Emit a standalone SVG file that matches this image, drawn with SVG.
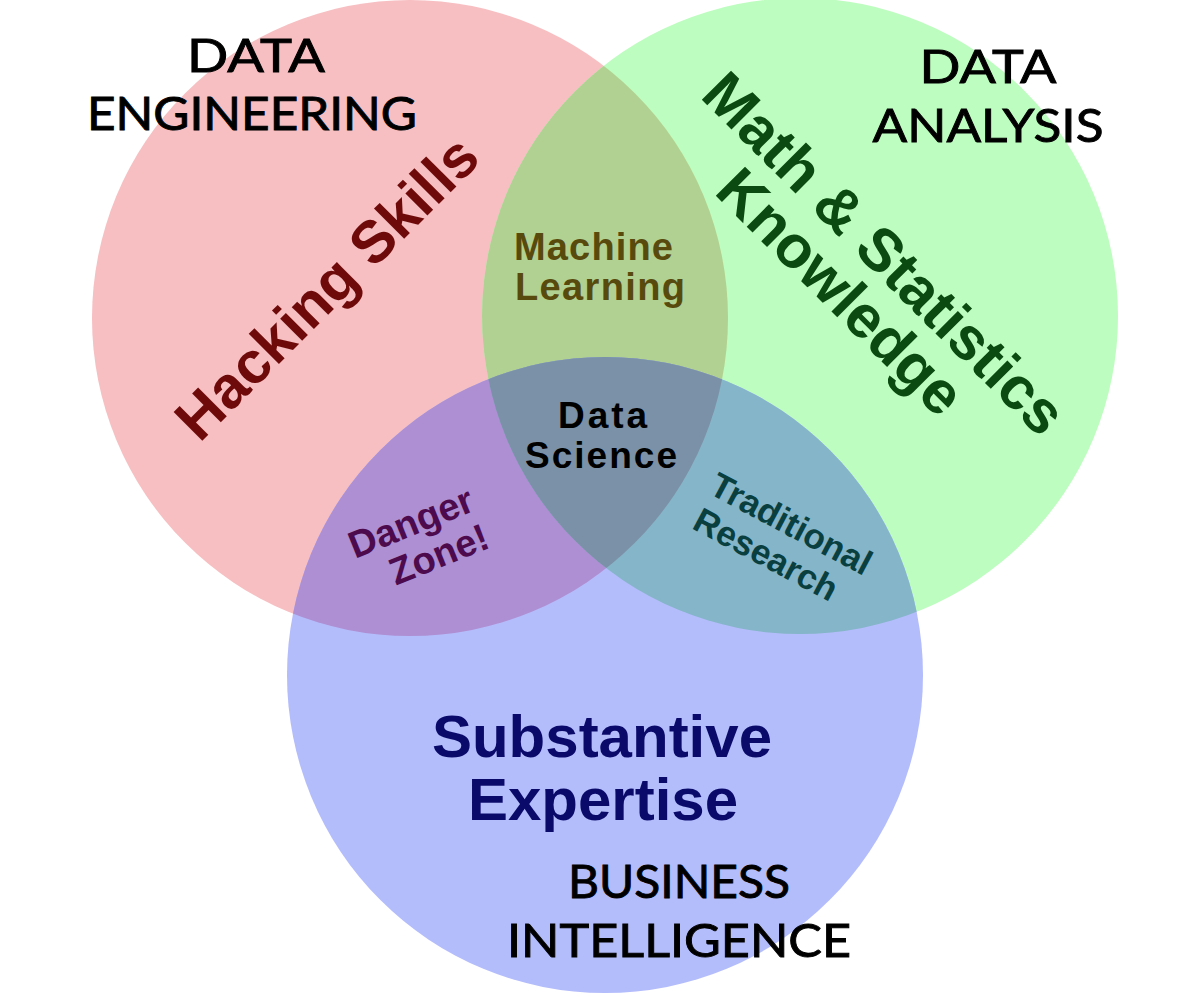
<svg xmlns="http://www.w3.org/2000/svg" width="1198" height="1006" viewBox="0 0 1198 1006">
  <defs>
    <!-- the three skill circles -->
    <circle id="c-hack" cx="410" cy="318" r="318"/>
    <circle id="c-math" cx="800" cy="316" r="318"/>
    <circle id="c-subst" cx="605" cy="675" r="318"/>
    <clipPath id="clip-hack"><use href="#c-hack"/></clipPath>
    <clipPath id="clip-math"><use href="#c-math"/></clipPath>
    <style>
      .area { font-family: "Liberation Sans", Arial, sans-serif; font-weight: bold; text-anchor: middle; }
      .field { font-family: Lato, "Open Sans", sans-serif; font-size: 46px; fill: #000; stroke: #000; stroke-width: 0.9px; text-anchor: middle; }
      .mix { font-family: "Liberation Sans", Arial, sans-serif; font-weight: bold; }
    </style>
  </defs>

  <rect width="1198" height="1006" fill="#ffffff"/>

  <!-- circles and their overlaps -->
  <g id="hacking-skills"><use href="#c-hack" fill="#f7bfc2"/></g>
  <g id="math-statistics"><use href="#c-math" fill="#bdfdbf"/></g>
  <g id="substantive-expertise"><use href="#c-subst" fill="#b4bdfb"/></g>
  <g id="machine-learning"><use href="#c-math" clip-path="url(#clip-hack)" fill="#b1d192"/></g>
  <g id="danger-zone"><use href="#c-subst" clip-path="url(#clip-hack)" fill="#ae8fd3"/></g>
  <g id="traditional-research"><use href="#c-subst" clip-path="url(#clip-math)" fill="#85b5c9"/></g>
  <g id="data-science">
    <g clip-path="url(#clip-hack)"><use href="#c-subst" clip-path="url(#clip-math)" fill="#7b91a7"/></g>
  </g>

  <g id="connectors"/>

  <!-- main circle labels -->
  <g id="label-hacking" transform="translate(341,302) rotate(-45)">
    <text class="area" x="0" y="0" font-size="59" fill="#6e0a0a">Hacking Skills</text>
  </g>
  <g id="label-math" transform="translate(870,268) rotate(45)">
    <text class="area" x="0" y="0" font-size="60" fill="#0b4a10">Math &amp; Statistics</text>
    <text class="area" x="-4" y="58" font-size="60" fill="#0b4a10">Knowledge</text>
  </g>
  <g id="label-subst">
    <text class="area" x="602" y="757" font-size="60" fill="#0a0a6b">Substantive</text>
    <text class="area" x="603" y="820" font-size="60" fill="#0a0a6b">Expertise</text>
  </g>

  <!-- overlap labels -->
  <g id="label-ml">
    <text class="mix" x="514" y="260" font-size="38" fill="#574a0c" textLength="159" lengthAdjust="spacing">Machine</text>
    <text class="mix" x="515" y="300" font-size="38" fill="#574a0c" textLength="170" lengthAdjust="spacing">Learning</text>
  </g>
  <g id="label-ds">
    <text class="mix" x="558" y="428" font-size="37" fill="#000" textLength="89" lengthAdjust="spacing">Data</text>
    <text class="mix" x="525" y="468" font-size="37" fill="#000" textLength="152" lengthAdjust="spacing">Science</text>
  </g>
  <g id="label-danger" transform="translate(418,540) rotate(-22)">
    <text class="area" x="0" y="-6" font-size="38" fill="#4d0a4d">Danger</text>
    <text class="area" x="14" y="34" font-size="38" fill="#4d0a4d">Zone!</text>
  </g>
  <g id="label-trad" transform="translate(780,545) rotate(28)">
    <text class="area" x="0" y="-12" font-size="35" fill="#0a3f3f">Traditional</text>
    <text class="area" x="-8" y="27" font-size="35" fill="#0a3f3f">Research</text>
  </g>

  <!-- field labels -->
  <g id="label-data-eng">
    <text class="field" x="256" y="72" textLength="138" lengthAdjust="spacingAndGlyphs">DATA</text>
    <text class="field" x="252" y="130" textLength="330" lengthAdjust="spacingAndGlyphs">ENGINEERING</text>
  </g>
  <g id="label-data-analysis">
    <text class="field" x="988" y="83" textLength="137" lengthAdjust="spacingAndGlyphs">DATA</text>
    <text class="field" x="988" y="142" textLength="231" lengthAdjust="spacingAndGlyphs">ANALYSIS</text>
  </g>
  <g id="label-bi">
    <text class="field" x="679" y="898" textLength="222" lengthAdjust="spacingAndGlyphs">BUSINESS</text>
    <text class="field" x="679" y="957" textLength="344" lengthAdjust="spacingAndGlyphs">INTELLIGENCE</text>
  </g>
</svg>
